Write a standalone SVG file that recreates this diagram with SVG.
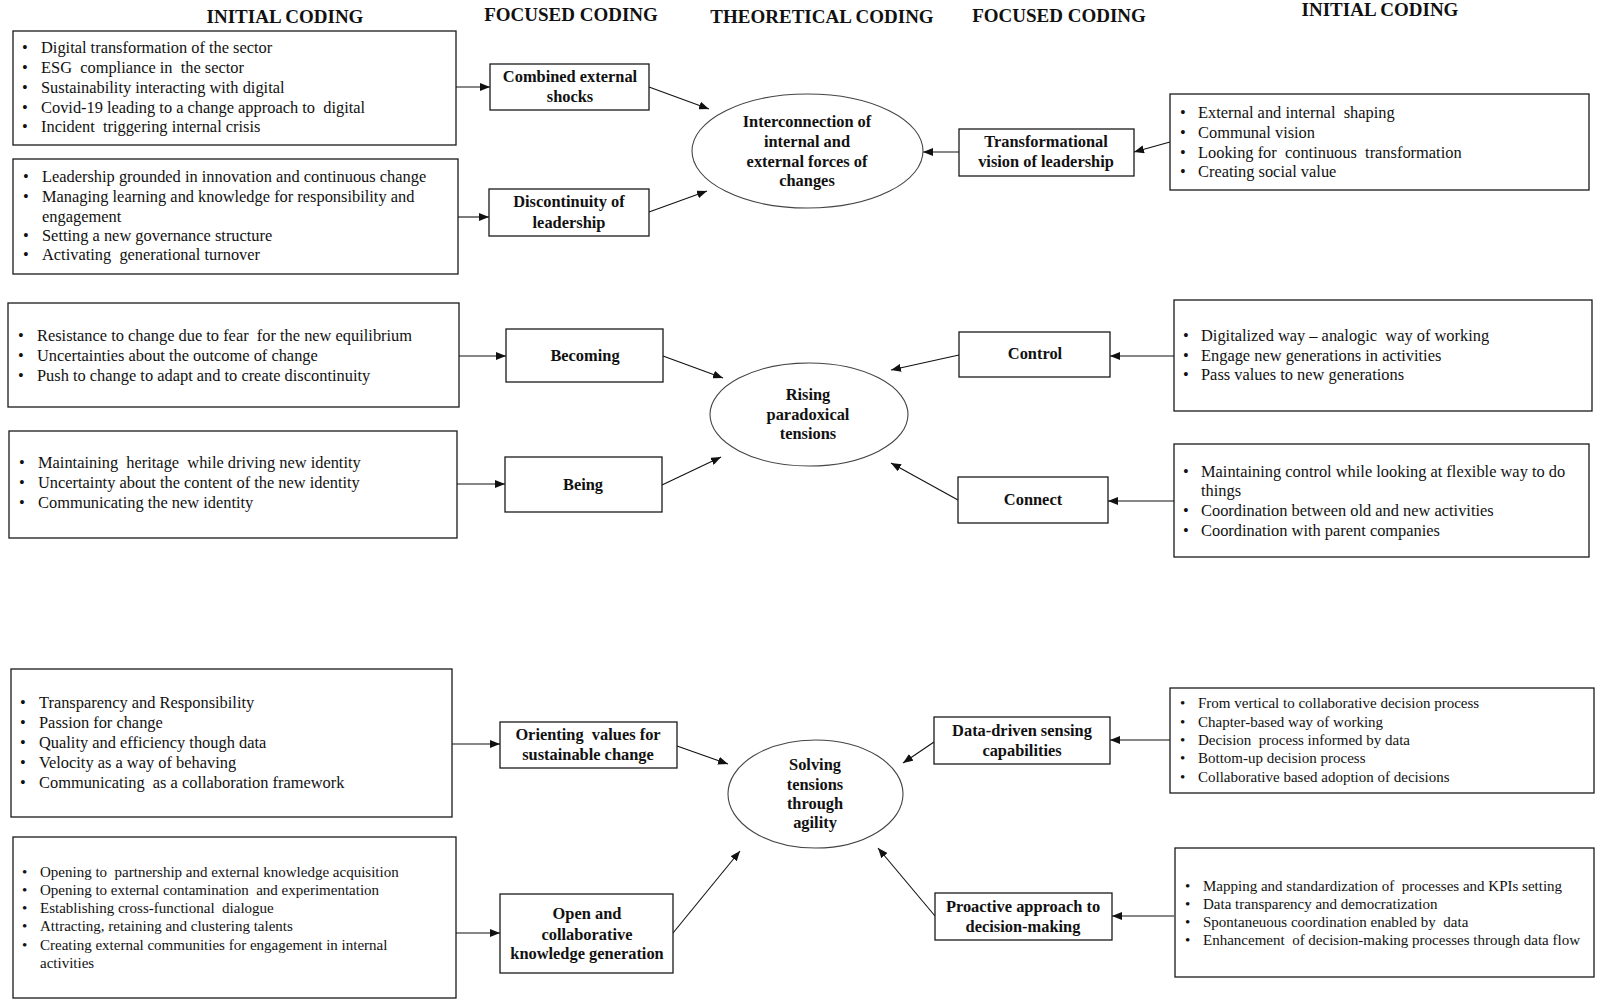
<svg xmlns="http://www.w3.org/2000/svg" width="1600" height="1002" viewBox="0 0 1600 1002">
<style>
text { font-family: "Liberation Serif", "Times New Roman", serif; fill: #111; white-space: pre; }
.h { font-size: 19px; font-weight: bold; text-anchor: middle; }
.t { font-size: 16.4px; }
.s { font-size: 15px; }
.b { font-size: 16.4px; font-weight: bold; text-anchor: middle; }
.box { fill: #fff; stroke: #1a1a1a; stroke-width: 1.3; }
.ell { fill: #fff; stroke: #444; stroke-width: 1.1; }
.c { fill: none; stroke: #111; stroke-width: 1.1; marker-end: url(#ah); }
</style>
<defs>
<marker id="ah" markerWidth="10" markerHeight="8" refX="10" refY="4" orient="auto" markerUnits="userSpaceOnUse">
<path d="M0,0 L10,4 L0,8 z" fill="#111"/>
</marker>
</defs>
<rect width="1600" height="1002" fill="#fff"/>

<g id="headers">
<text class="h" x="285" y="23">INITIAL CODING</text>
<text class="h" x="571" y="21">FOCUSED CODING</text>
<text class="h" x="822" y="23">THEORETICAL CODING</text>
<text class="h" x="1059" y="22">FOCUSED CODING</text>
<text class="h" x="1380" y="16">INITIAL CODING</text>
</g>

<g id="connectors">
<line class="c" x1="456" y1="87" x2="490" y2="87"/>
<line class="c" x1="458" y1="217" x2="489" y2="217"/>
<line class="c" x1="649" y1="87" x2="709" y2="109"/>
<line class="c" x1="649" y1="212" x2="707" y2="191"/>
<line class="c" x1="959" y1="152" x2="923" y2="152"/>
<line class="c" x1="1170" y1="142" x2="1134" y2="152"/>
<line class="c" x1="459" y1="356" x2="506" y2="356"/>
<line class="c" x1="457" y1="484" x2="505" y2="484"/>
<line class="c" x1="663" y1="356" x2="723" y2="378"/>
<line class="c" x1="662" y1="485" x2="721" y2="457"/>
<line class="c" x1="959" y1="355" x2="891" y2="370"/>
<line class="c" x1="958" y1="500" x2="891" y2="463"/>
<line class="c" x1="1174" y1="356" x2="1110" y2="356"/>
<line class="c" x1="1174" y1="501" x2="1108" y2="501"/>
<line class="c" x1="451" y1="744" x2="500" y2="744"/>
<line class="c" x1="456" y1="933" x2="500" y2="933"/>
<line class="c" x1="677" y1="746" x2="728" y2="764"/>
<line class="c" x1="673" y1="933" x2="740" y2="851"/>
<line class="c" x1="934" y1="742" x2="903" y2="763"/>
<line class="c" x1="935" y1="916" x2="878" y2="848"/>
<line class="c" x1="1170" y1="740" x2="1110" y2="740"/>
<line class="c" x1="1174" y1="916" x2="1112" y2="916"/>
</g>

<!-- Row 1 -->
<g id="ic-external-shocks">
<rect class="box" x="13" y="31" width="443" height="114"/>
<text class="t" y="53"><tspan x="22">•</tspan><tspan x="41">Digital transformation of the sector</tspan></text>
<text class="t" y="73"><tspan x="22">•</tspan><tspan x="41">ESG  compliance in  the sector</tspan></text>
<text class="t" y="93"><tspan x="22">•</tspan><tspan x="41">Sustainability interacting with digital</tspan></text>
<text class="t" y="113"><tspan x="22">•</tspan><tspan x="41">Covid-19 leading to a change approach to  digital</tspan></text>
<text class="t" y="132"><tspan x="22">•</tspan><tspan x="41">Incident  triggering internal crisis</tspan></text>
</g>
<g id="ic-leadership">
<rect class="box" x="13" y="159" width="445" height="115"/>
<text class="t" y="182"><tspan x="23">•</tspan><tspan x="42">Leadership grounded in innovation and continuous change</tspan></text>
<text class="t" y="202"><tspan x="23">•</tspan><tspan x="42">Managing learning and knowledge for responsibility and</tspan></text>
<text class="t" y="222"><tspan x="42">engagement</tspan></text>
<text class="t" y="241"><tspan x="23">•</tspan><tspan x="42">Setting a new governance structure</tspan></text>
<text class="t" y="260"><tspan x="23">•</tspan><tspan x="42">Activating  generational turnover</tspan></text>
</g>
<g id="fc-combined-shocks">
<rect class="box" x="490" y="64" width="159" height="46"/>
<text class="b" x="570" y="82">Combined external</text>
<text class="b" x="570" y="102">shocks</text>
</g>
<g id="fc-discontinuity">
<rect class="box" x="489" y="189" width="160" height="47"/>
<text class="b" x="569" y="207">Discontinuity of</text>
<text class="b" x="569" y="228">leadership</text>
</g>
<g id="tc-interconnection">
<ellipse class="ell" cx="807.5" cy="151" rx="115.5" ry="57"/>
<text class="b" x="807" y="127">Interconnection of</text>
<text class="b" x="807" y="147">internal and</text>
<text class="b" x="807" y="167">external forces of</text>
<text class="b" x="807" y="186">changes</text>
</g>
<g id="fc-transformational">
<rect class="box" x="959" y="129" width="175" height="47"/>
<text class="b" x="1046" y="147">Transformational</text>
<text class="b" x="1046" y="167">vision of leadership</text>
</g>
<g id="ic-transformational">
<rect class="box" x="1170" y="94" width="419" height="96"/>
<text class="t" y="118"><tspan x="1180">•</tspan><tspan x="1198">External and internal  shaping</tspan></text>
<text class="t" y="138"><tspan x="1180">•</tspan><tspan x="1198">Communal vision</tspan></text>
<text class="t" y="158"><tspan x="1180">•</tspan><tspan x="1198">Looking for  continuous  transformation</tspan></text>
<text class="t" y="177"><tspan x="1180">•</tspan><tspan x="1198">Creating social value</tspan></text>
</g>

<!-- Row 2 -->
<g id="ic-becoming">
<rect class="box" x="8" y="303" width="451" height="104"/>
<text class="t" y="341"><tspan x="18">•</tspan><tspan x="37">Resistance to change due to fear  for the new equilibrium</tspan></text>
<text class="t" y="361"><tspan x="18">•</tspan><tspan x="37">Uncertainties about the outcome of change</tspan></text>
<text class="t" y="381"><tspan x="18">•</tspan><tspan x="37">Push to change to adapt and to create discontinuity</tspan></text>
</g>
<g id="ic-being">
<rect class="box" x="9" y="431" width="448" height="107"/>
<text class="t" y="468"><tspan x="19">•</tspan><tspan x="38">Maintaining  heritage  while driving new identity</tspan></text>
<text class="t" y="488"><tspan x="19">•</tspan><tspan x="38">Uncertainty about the content of the new identity</tspan></text>
<text class="t" y="508"><tspan x="19">•</tspan><tspan x="38">Communicating the new identity</tspan></text>
</g>
<g id="fc-becoming">
<rect class="box" x="506" y="329" width="157" height="53"/>
<text class="b" x="585" y="361">Becoming</text>
</g>
<g id="fc-being">
<rect class="box" x="505" y="457" width="157" height="55"/>
<text class="b" x="583" y="490">Being</text>
</g>
<g id="tc-paradoxical">
<ellipse class="ell" cx="809" cy="414.5" rx="99" ry="51.5"/>
<text class="b" x="808" y="400">Rising</text>
<text class="b" x="808" y="420">paradoxical</text>
<text class="b" x="808" y="439">tensions</text>
</g>
<g id="fc-control">
<rect class="box" x="959" y="332" width="151" height="45"/>
<text class="b" x="1035" y="359">Control</text>
</g>
<g id="fc-connect">
<rect class="box" x="958" y="477" width="150" height="46"/>
<text class="b" x="1033" y="505">Connect</text>
</g>
<g id="ic-control">
<rect class="box" x="1174" y="300" width="418" height="111"/>
<text class="t" y="341"><tspan x="1183">•</tspan><tspan x="1201">Digitalized way – analogic  way of working</tspan></text>
<text class="t" y="361"><tspan x="1183">•</tspan><tspan x="1201">Engage new generations in activities</tspan></text>
<text class="t" y="380"><tspan x="1183">•</tspan><tspan x="1201">Pass values to new generations</tspan></text>
</g>
<g id="ic-connect">
<rect class="box" x="1174" y="444" width="415" height="113"/>
<text class="t" y="477"><tspan x="1183">•</tspan><tspan x="1201">Maintaining control while looking at flexible way to do</tspan></text>
<text class="t" y="496"><tspan x="1201">things</tspan></text>
<text class="t" y="516"><tspan x="1183">•</tspan><tspan x="1201">Coordination between old and new activities</tspan></text>
<text class="t" y="536"><tspan x="1183">•</tspan><tspan x="1201">Coordination with parent companies</tspan></text>
</g>

<!-- Row 3 -->
<g id="ic-orienting">
<rect class="box" x="11" y="669" width="441" height="148"/>
<text class="t" y="708"><tspan x="20">•</tspan><tspan x="39">Transparency and Responsibility</tspan></text>
<text class="t" y="728"><tspan x="20">•</tspan><tspan x="39">Passion for change</tspan></text>
<text class="t" y="748"><tspan x="20">•</tspan><tspan x="39">Quality and efficiency though data</tspan></text>
<text class="t" y="768"><tspan x="20">•</tspan><tspan x="39">Velocity as a way of behaving</tspan></text>
<text class="t" y="788"><tspan x="20">•</tspan><tspan x="39">Communicating  as a collaboration framework</tspan></text>
</g>
<g id="ic-open">
<rect class="box" x="13" y="837" width="443" height="161"/>
<text class="s" y="877"><tspan x="22">•</tspan><tspan x="40">Opening to  partnership and external knowledge acquisition</tspan></text>
<text class="s" y="895"><tspan x="22">•</tspan><tspan x="40">Opening to external contamination  and experimentation</tspan></text>
<text class="s" y="913"><tspan x="22">•</tspan><tspan x="40">Establishing cross-functional  dialogue</tspan></text>
<text class="s" y="931"><tspan x="22">•</tspan><tspan x="40">Attracting, retaining and clustering talents</tspan></text>
<text class="s" y="950"><tspan x="22">•</tspan><tspan x="40">Creating external communities for engagement in internal</tspan></text>
<text class="s" y="968"><tspan x="40">activities</tspan></text>
</g>
<g id="fc-orienting">
<rect class="box" x="500" y="722" width="177" height="46"/>
<text class="b" x="588" y="740">Orienting  values for</text>
<text class="b" x="588" y="760">sustainable change</text>
</g>
<g id="fc-open">
<rect class="box" x="500" y="894" width="173" height="79"/>
<text class="b" x="587" y="919">Open and</text>
<text class="b" x="587" y="940">collaborative</text>
<text class="b" x="587" y="959">knowledge generation</text>
</g>
<g id="tc-agility">
<ellipse class="ell" cx="815.5" cy="794" rx="87.5" ry="54"/>
<text class="b" x="815" y="770">Solving</text>
<text class="b" x="815" y="790">tensions</text>
<text class="b" x="815" y="809">through</text>
<text class="b" x="815" y="828">agility</text>
</g>
<g id="fc-data-driven">
<rect class="box" x="934" y="717" width="176" height="47"/>
<text class="b" x="1022" y="736">Data-driven sensing</text>
<text class="b" x="1022" y="756">capabilities</text>
</g>
<g id="fc-proactive">
<rect class="box" x="935" y="893" width="177" height="47"/>
<text class="b" x="1023" y="912">Proactive approach to</text>
<text class="b" x="1023" y="932">decision-making</text>
</g>
<g id="ic-data-driven">
<rect class="box" x="1170" y="688" width="424" height="105"/>
<text class="s" y="708"><tspan x="1180">•</tspan><tspan x="1198">From vertical to collaborative decision process</tspan></text>
<text class="s" y="727"><tspan x="1180">•</tspan><tspan x="1198">Chapter-based way of working</tspan></text>
<text class="s" y="745"><tspan x="1180">•</tspan><tspan x="1198">Decision  process informed by data</tspan></text>
<text class="s" y="763"><tspan x="1180">•</tspan><tspan x="1198">Bottom-up decision process</tspan></text>
<text class="s" y="782"><tspan x="1180">•</tspan><tspan x="1198">Collaborative based adoption of decisions</tspan></text>
</g>
<g id="ic-proactive">
<rect class="box" x="1175" y="848" width="419" height="129"/>
<text class="s" y="891"><tspan x="1185">•</tspan><tspan x="1203">Mapping and standardization of  processes and KPIs setting</tspan></text>
<text class="s" y="909"><tspan x="1185">•</tspan><tspan x="1203">Data transparency and democratization</tspan></text>
<text class="s" y="927"><tspan x="1185">•</tspan><tspan x="1203">Spontaneuous coordination enabled by  data</tspan></text>
<text class="s" y="945"><tspan x="1185">•</tspan><tspan x="1203">Enhancement  of decision-making processes through data flow</tspan></text>
</g>
</svg>
